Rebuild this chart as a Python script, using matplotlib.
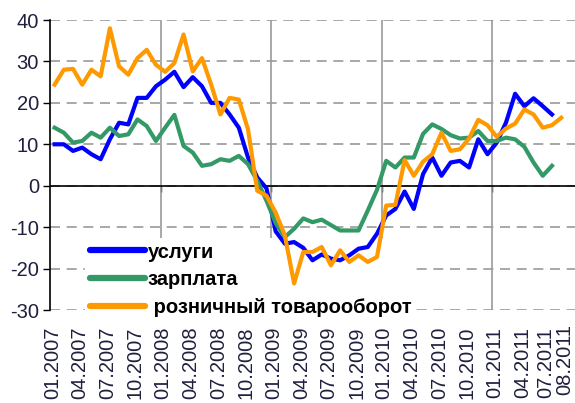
import numpy as np
import pandas as pd
import matplotlib
matplotlib.use('Agg')
from matplotlib import pyplot as plt
from matplotlib.transforms import ScaledTranslation

plt.rcParams['axes.unicode_minus'] = False

# monthly series, 01.2007 .. 08.2011
months = pd.date_range('2007-01-01', periods=56, freq='MS').strftime('%m.%Y').tolist()

uslugi = [10, 10, 8.4, 9.2, 7.6, 6.4, 11.2, 15.2, 14.8, 21.2, 21.2, 24, 25.6, 27.5, 23.8, 26.2,
          24, 20, 20, 17.2, 14, 6.8, 2, -0.6, -11, -14, -13.6, -15, -18, -16.6, -17.6, -18,
          -16.8, -15.2, -14.8, -11.6, -7.2, -5.6, -1.4, -5.6, 2.8, 6.8, 2.4, 5.6, 6, 4.4, 11.2,
          7.6, 10.4, 15.2, 22.2, 19.2, 21.1, 19.2, 17.2]
zarplata = [14, 12.8, 10.4, 10.8, 12.8, 11.6, 14, 12, 12.4, 16, 14.4, 10.8, 14, 17.1, 9.6, 8,
            4.8, 5.2, 6.4, 6, 7.2, 5.2, 1.2, -3.6, -9, -12.4, -10.4, -7.9, -8.8, -8.2, -9.5, -10.8,
            -10.8, -10.8, -6, -1, 6, 4.4, 6.8, 6.8, 12.5, 14.8, 13.7, 12.2, 11.4, 11.6, 13.2,
            10.8, 10.8, 11.6, 11.2, 9.4, 5.6, 2.4, 4.8]
roznica = [24.4, 28, 28.2, 24.4, 28, 26.4, 38, 28.8, 26.8, 30.8, 32.8, 29.2, 27.5, 29.6, 36.5, 27.6,
           30.8, 24.4, 17.2, 21.2, 20.8, 13.6, -1.2, -2.4, -6.5, -12, -23.6, -16, -16, -14.8, -19.2, -15.6,
           -18.4, -16.8, -18.4, -17.2, -4.8, -4.6, 6.2, 2.4, 5.8, 7.6, 12.8, 8.4, 8.8, 11.4, 15.9,
           14.6, 11.8, 13.8, 15, 18.4, 17.2, 14, 14.6, 16.4]

series_names = ['услуги', 'зарплата', ' розничный товарооборот']
series_colors = ['#0000FF', '#339966', '#FF9900']

label_idx = list(range(0, 56, 3)) + [55]
x_labels = [months[i] for i in label_idx]
year_bounds = [i - 0.5 for i in range(12, 56, 12)]

txt_color = '#1F1F3F'
fs = 14.5

fig = plt.figure(figsize=(5.75, 4.03), dpi=100)
ax = fig.add_axes([50 / 575, 1 - 310 / 403, 525 / 575, 290 / 403])

handles = []
for data, name, col in zip([uslugi, zarplata, roznica], series_names, series_colors):
    h, = ax.plot(np.arange(len(data)), data, color=col, lw=3, label=name, zorder=3,
                 solid_joinstyle='round')
    handles.append(h)

ax.set_xlim(-0.5, 56.5)
ax.set_ylim(-30, 40)
ax.set_yticks(range(-30, 41, 10))
ax.tick_params(axis='y', direction='out', length=5, width=1, color='black',
               labelsize=fs, labelcolor=txt_color, pad=3)
for lab in ax.get_yticklabels():
    lab.set_family('Liberation Sans')

ax.set_xticks(label_idx)
ax.set_xticklabels(x_labels, rotation=90, fontsize=fs, color=txt_color, family='Liberation Sans')
ax.tick_params(axis='x', which='major', length=0, pad=12)
# small horizontal nudges (px) so the last two labels sit side by side as in the source
nudges = [-2] * (len(label_idx) - 2) + [-6, 4]
xlabs = ax.get_xticklabels()
for lab, dx in zip(xlabs, nudges):
    dy = 3 if dx > 0 else 0
    lab.set_transform(lab.get_transform() + ScaledTranslation(dx / 100, dy / 100, fig.dpi_scale_trans))
ax.set_xticks(year_bounds, minor=True)
ax.tick_params(axis='x', which='minor', length=0)

ax.grid(axis='y', which='major', color='#9a9a9a', lw=1.2, linestyle=(0, (6, 4)))
ax.grid(axis='x', which='minor', color='#9a9a9a', lw=1.2)
ax.grid(axis='x', which='major', visible=False)

for s in ['top', 'right', 'bottom']:
    ax.spines[s].set_visible(False)
ax.spines['left'].set_color('black')
ax.spines['left'].set_linewidth(1.2)

ax.axhline(0, color='black', lw=1.2, zorder=2.5)
sec = ax.secondary_xaxis(30 / 70)
sec.set_xticks(year_bounds)
sec.tick_params(axis='x', direction='out', length=4, width=1, color='black',
                labelbottom=False, labeltop=False, bottom=True, top=False)
for s in sec.spines.values():
    s.set_visible(False)

leg = ax.legend(handles=handles, loc='upper left', bbox_to_anchor=(0.067, 0.25),
                frameon=True, facecolor='white', edgecolor='none', framealpha=1, fancybox=False,
                prop={'family': 'Liberation Sans', 'weight': 'bold', 'size': fs},
                handlelength=2.7, handletextpad=0.15, labelspacing=0.43, borderpad=0.25,
                borderaxespad=0)
leg.set_zorder(2.2)
for line in leg.get_lines():
    line.set_linewidth(4.5)
    line.set_solid_capstyle('round')

fig.savefig('out.png', dpi=100, facecolor='white')
